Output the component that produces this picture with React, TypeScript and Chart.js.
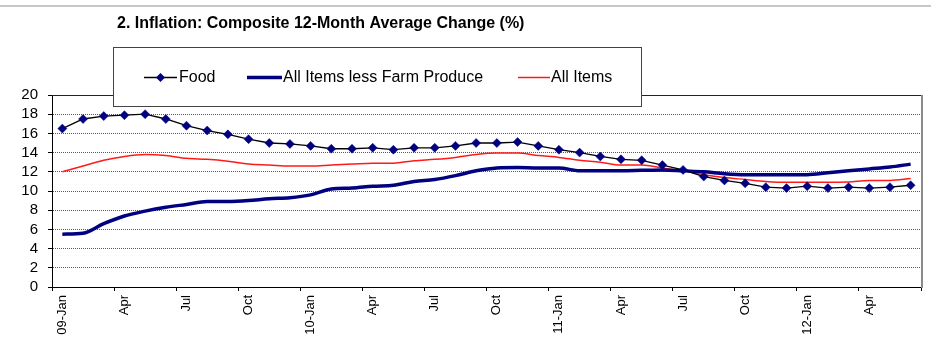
import { useEffect, useRef } from 'react';
import { Chart, registerables } from 'chart.js';

Chart.register(...registerables);

// Monthly observations, January 2009 to June 2012
const categories = [
  'Jan 2009', 'Feb 2009', 'Mar 2009', 'Apr 2009', 'May 2009', 'Jun 2009',
  'Jul 2009', 'Aug 2009', 'Sep 2009', 'Oct 2009', 'Nov 2009', 'Dec 2009',
  'Jan 2010', 'Feb 2010', 'Mar 2010', 'Apr 2010', 'May 2010', 'Jun 2010',
  'Jul 2010', 'Aug 2010', 'Sep 2010', 'Oct 2010', 'Nov 2010', 'Dec 2010',
  'Jan 2011', 'Feb 2011', 'Mar 2011', 'Apr 2011', 'May 2011', 'Jun 2011',
  'Jul 2011', 'Aug 2011', 'Sep 2011', 'Oct 2011', 'Nov 2011', 'Dec 2011',
  'Jan 2012', 'Feb 2012', 'Mar 2012', 'Apr 2012', 'May 2012', 'Jun 2012',
];

// Quarterly tick labels (blank for the months in between)
const tickLabels = [
  '09-Jan', '', '', 'Apr', '', '', 'Jul', '', '', 'Oct', '', '',
  '10-Jan', '', '', 'Apr', '', '', 'Jul', '', '', 'Oct', '', '',
  '11-Jan', '', '', 'Apr', '', '', 'Jul', '', '', 'Oct', '', '',
  '12-Jan', '', '', 'Apr', '', '',
];

const food = [
  16.5, 17.5, 17.8, 17.9, 18.0, 17.5, 16.8, 16.3, 15.9, 15.4,
  15.0, 14.9, 14.7, 14.4, 14.4, 14.5, 14.3, 14.5, 14.5, 14.7,
  15.0, 15.0, 15.1, 14.7, 14.3, 14.0, 13.6, 13.3, 13.2, 12.7,
  12.2, 11.5, 11.1, 10.8, 10.4, 10.3, 10.5, 10.3, 10.4, 10.3,
  10.4, 10.6,
];

const allItemsLessFarmProduce = [
  5.5, 5.6, 6.6, 7.4, 7.9, 8.3, 8.6, 8.9, 8.9, 9.0,
  9.2, 9.3, 9.6, 10.2, 10.3, 10.5, 10.6, 11.0, 11.2, 11.6,
  12.1, 12.4, 12.45, 12.4, 12.4, 12.1, 12.1, 12.1, 12.15, 12.2,
  12.1, 12.0, 11.8, 11.7, 11.7, 11.7, 11.7, 11.9, 12.1, 12.3,
  12.5, 12.8,
];

const allItems = [
  12.0, 12.6, 13.2, 13.6, 13.8, 13.7, 13.4, 13.3, 13.1, 12.8,
  12.7, 12.6, 12.6, 12.7, 12.8, 12.9, 12.9, 13.15, 13.3, 13.5,
  13.8, 13.95, 13.95, 13.7, 13.5, 13.2, 13.0, 12.7, 12.7, 12.4,
  12.1, 11.7, 11.4, 11.2, 11.0, 10.9, 10.9, 10.9, 10.95, 11.1,
  11.1, 11.3,
];

const chartTitle = '2. Inflation: Composite 12-Month Average Change (%)';

const FONT = "'Liberation Sans', Arial, Helvetica, sans-serif";
const NAVY = '#000080';
const RED = '#ff1a1a';

// Draws the page rule, title, plot frame and the boxed legend
const decorations = {
  id: 'decorations',
  afterDraw(chart: Chart) {
    const { ctx, chartArea: area } = chart;
    ctx.save();

    // thin rule along the top of the page
    ctx.strokeStyle = '#b4b4b4';
    ctx.lineWidth = 1.5;
    ctx.beginPath();
    ctx.moveTo(0, 6);
    ctx.lineTo(931, 6);
    ctx.stroke();

    // title
    ctx.fillStyle = '#000';
    ctx.font = `bold 16px ${FONT}`;
    ctx.textBaseline = 'middle';
    ctx.textAlign = 'left';
    ctx.fillText(chartTitle, 117, 24);

    // plot frame: dark top edge, grey right edge
    ctx.strokeStyle = '#222';
    ctx.lineWidth = 1;
    ctx.beginPath();
    ctx.moveTo(area.left, Math.round(area.top) + 0.5);
    ctx.lineTo(area.right, Math.round(area.top) + 0.5);
    ctx.stroke();
    ctx.strokeStyle = '#8a8a8a';
    ctx.lineWidth = 2;
    ctx.beginPath();
    ctx.moveTo(area.right + 1, area.top);
    ctx.lineTo(area.right + 1, area.bottom + 1);
    ctx.stroke();

    // legend box
    ctx.fillStyle = '#fff';
    ctx.fillRect(113.5, 47.5, 528, 59);
    ctx.strokeStyle = '#444';
    ctx.lineWidth = 1;
    ctx.strokeRect(113.5, 47.5, 528, 59);

    const ly = 77.5;
    ctx.font = `16px ${FONT}`;
    ctx.fillStyle = '#000';

    // Food
    ctx.strokeStyle = '#000';
    ctx.lineWidth = 1.3;
    ctx.beginPath();
    ctx.moveTo(144, ly);
    ctx.lineTo(177, ly);
    ctx.stroke();
    ctx.fillStyle = NAVY;
    ctx.beginPath();
    ctx.moveTo(160.5, ly - 4.5);
    ctx.lineTo(165, ly);
    ctx.lineTo(160.5, ly + 4.5);
    ctx.lineTo(156, ly);
    ctx.closePath();
    ctx.fill();
    ctx.fillStyle = '#000';
    ctx.fillText('Food', 179, ly);

    // All Items less Farm Produce
    ctx.strokeStyle = NAVY;
    ctx.lineWidth = 3.5;
    ctx.beginPath();
    ctx.moveTo(247, ly);
    ctx.lineTo(282, ly);
    ctx.stroke();
    ctx.fillText('All Items less Farm Produce', 283, ly);

    // All Items
    ctx.strokeStyle = RED;
    ctx.lineWidth = 1.5;
    ctx.beginPath();
    ctx.moveTo(518, ly);
    ctx.lineTo(550, ly);
    ctx.stroke();
    ctx.fillText('All Items', 551, ly);

    ctx.restore();
  },
};

export default function App() {
  const canvasRef = useRef<HTMLCanvasElement | null>(null);

  useEffect(() => {
    document.body.style.margin = '0';
    const canvas = canvasRef.current;
    if (!canvas) return;

    const chart = new Chart(canvas, {
      type: 'line',
      data: {
        labels: categories,
        datasets: [
          {
            label: 'Food',
            data: food,
            borderColor: '#000',
            borderWidth: 1.3,
            pointStyle: 'rectRot',
            pointRadius: 4.5,
            pointBackgroundColor: NAVY,
            pointBorderColor: NAVY,
            pointBorderWidth: 0.5,
            tension: 0,
          },
          {
            label: 'All Items less Farm Produce',
            data: allItemsLessFarmProduce,
            borderColor: NAVY,
            borderWidth: 3.5,
            pointRadius: 0,
            cubicInterpolationMode: 'monotone',
          },
          {
            label: 'All Items',
            data: allItems,
            borderColor: RED,
            borderWidth: 1.5,
            pointRadius: 0,
            cubicInterpolationMode: 'monotone',
          },
        ],
      },
      options: {
        responsive: false,
        animation: false,
        devicePixelRatio: 1,
        layout: { padding: { top: 95, right: 10, bottom: 0, left: 0 } },
        plugins: {
          legend: { display: false },
          tooltip: { enabled: false },
          title: { display: false },
        },
        scales: {
          x: {
            type: 'category',
            offset: true,
            afterFit: (scale: any) => {
              scale.height = 64;
            },
            grid: {
              offset: true,
              drawOnChartArea: false,
              tickLength: 4,
              tickColor: (c: any) =>
                c.index === undefined || c.index % 3 === 0 ? '#000' : 'rgba(0,0,0,0)',
            },
            border: { display: true, color: '#000', width: 1 },
            ticks: {
              autoSkip: false,
              minRotation: 90,
              maxRotation: 90,
              padding: 4,
              color: '#000',
              font: { family: FONT, size: 13 },
              callback: (_v: any, i: number) => tickLabels[i],
            },
          },
          y: {
            min: 0,
            max: 20,
            afterFit: (scale: any) => {
              scale.width = 52;
            },
            grid: {
              color: (c: any) =>
                c.tick && (c.tick.value === 0 || c.tick.value === 20) ? 'rgba(0,0,0,0)' : '#5a5a5a',
              tickColor: '#000',
              tickLength: 4,
              lineWidth: 1,
            },
            border: { display: true, color: '#000', width: 1, dash: [1, 1] },
            ticks: {
              stepSize: 2,
              autoSkip: false,
              maxTicksLimit: 20,
              padding: 10,
              color: '#000',
              font: { family: FONT, size: 15 },
            },
          },
        },
      },
      plugins: [decorations],
    });

    return () => chart.destroy();
  }, []);

  return (
    <div style={{ position: 'fixed', left: 0, top: 0, width: 931, height: 351, background: '#fff' }}>
      <canvas ref={canvasRef} width={931} height={351} />
    </div>
  );
}
